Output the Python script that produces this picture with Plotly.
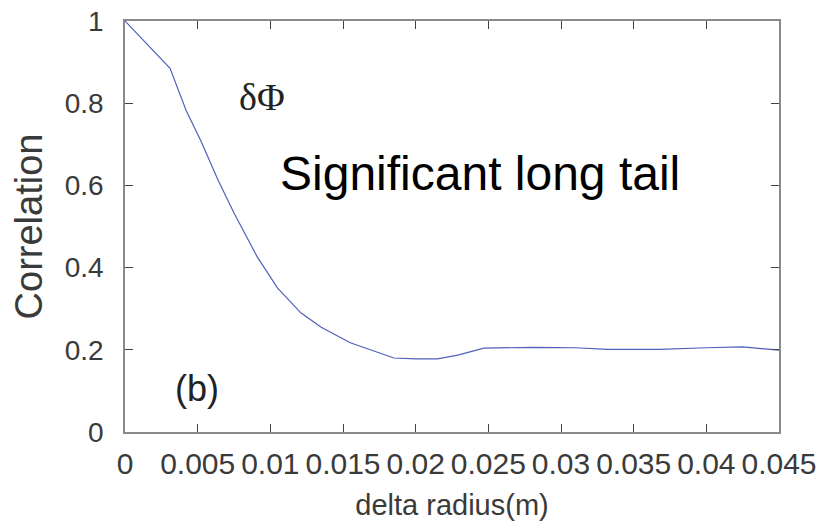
import plotly.graph_objects as go

delta_radius = [0.0, 0.0031, 0.0042, 0.0052, 0.0064, 0.0075, 0.0091, 0.0105, 0.0121,
                0.0135, 0.0155, 0.0172, 0.0185, 0.0200, 0.0215, 0.0229, 0.0247, 0.0281,
                0.0310, 0.0332, 0.0368, 0.0400, 0.0425, 0.0450]
correlation = [1.0, 0.885, 0.783, 0.71, 0.613, 0.533, 0.426, 0.35, 0.29,
               0.255, 0.217, 0.195, 0.18, 0.178, 0.178, 0.187, 0.204, 0.206,
               0.205, 0.201, 0.201, 0.205, 0.207, 0.199]

x_ticks = [0, 0.005, 0.01, 0.015, 0.02, 0.025, 0.03, 0.035, 0.04, 0.045]
x_tick_labels = ["0", "0.005", "0.01", "0.015", "0.02", "0.025", "0.03", "0.035", "0.04", "0.045"]
y_ticks = [0, 0.2, 0.4, 0.6, 0.8, 1]
y_tick_labels = ["0", "0.2", "0.4", "0.6", "0.8", "1"]

fig = go.Figure()
fig.add_trace(go.Scatter(x=delta_radius, y=correlation, mode="lines",
                         line=dict(color="#5060bb", width=1.2), showlegend=False))

axis_common = dict(showgrid=False, zeroline=False, showline=True, mirror="allticks",
                   linecolor="#8a8a8a", linewidth=1.5, ticks="inside", ticklen=8,
                   tickcolor="#444", tickwidth=1.2, automargin=False)

fig.update_xaxes(range=[0, 0.045], tickvals=x_ticks, ticktext=x_tick_labels,
                 ticklabelstandoff=4,
                 tickfont=dict(family="Liberation Sans, Arial", size=30, color="#3a3a3a"),
                 title=dict(text="delta radius(m)", standoff=16,
                            font=dict(family="Liberation Sans, Arial", size=29, color="#3a3a3a")),
                 **axis_common)
fig.update_yaxes(range=[0, 1], tickvals=y_ticks, ticktext=y_tick_labels,
                 ticklabelstandoff=14,
                 tickfont=dict(family="Liberation Sans, Arial", size=28, color="#3a3a3a"),
                 title=dict(text="Correlation", standoff=10,
                            font=dict(family="Liberation Sans, Arial", size=38, color="#3a3a3a")),
                 **axis_common)

fig.add_annotation(x=0.00945, y=0.815, text="δΦ", showarrow=False,
                   font=dict(family="Liberation Serif, Times New Roman", size=38, color="#222"))
fig.add_annotation(x=0.0244, y=0.63, text="Significant long tail", showarrow=False,
                   font=dict(family="Liberation Sans, Arial", size=48, color="#000"))
fig.add_annotation(x=0.00495, y=0.106, text="(b)", showarrow=False,
                   font=dict(family="Liberation Sans, Arial", size=36, color="#222"))

fig.update_layout(width=838, height=522, margin=dict(l=125, r=59, t=21, b=90),
                  plot_bgcolor="white", paper_bgcolor="white")

fig.write_html("out.html")
